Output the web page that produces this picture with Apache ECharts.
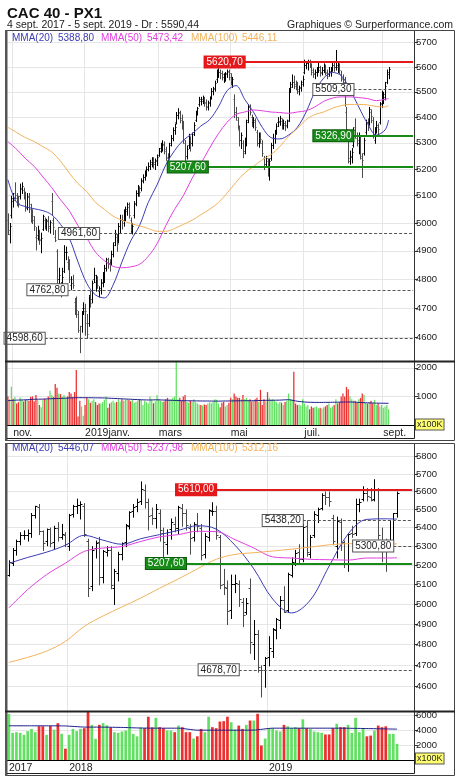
<!DOCTYPE html>
<html><head><meta charset="utf-8">
<script src="https://cdn.jsdelivr.net/npm/echarts@6/dist/echarts.min.js"></script>
<style>html,body{margin:0;padding:0;background:#fff}#c{width:460px;height:782px}</style>
</head><body><div id="c"></div>
<script>
// ---------------- DATA ----------------
// Daily trading days (top chart)
const dailyMonths = ['2018-10','2018-11','2018-12','2019-01','2019-02','2019-03','2019-04','2019-05','2019-06','2019-07','2019-08','2019-09'];
const dailyDays = [
 [29,30,31],
 [1,2,5,6,7,8,9,12,13,14,15,16,19,20,21,22,23,26,27,28,29,30],
 [3,4,5,6,7,10,11,12,13,14,17,18,19,20,21,24,27,28,31],
 [2,3,4,7,8,9,10,11,14,15,16,17,18,21,22,23,24,25,28,29,30,31],
 [1,4,5,6,7,8,11,12,13,14,15,18,19,20,21,22,25,26,27,28],
 [1,4,5,6,7,8,11,12,13,14,15,18,19,20,21,22,25,26,27,28,29],
 [1,2,3,4,5,8,9,10,11,12,15,16,17,18,23,24,25,26,29,30],
 [2,3,6,7,8,9,10,13,14,15,16,17,20,21,22,23,24,27,28,29,30,31],
 [3,4,5,6,7,10,11,12,13,14,17,18,19,20,21,24,25,26,27,28],
 [1,2,3,4,5,8,9,10,11,12,15,16,17,18,19,22,23,24,25,26,29,30,31],
 [1,2,5,6,7,8,9,12,13,14,15,16,19,20,21,22,23,26,27,28,29,30],
 [2,3,4,5]
];
const dailyOpen = [5010,4960,5030,5080,5110,5090,5085,5100,5125,5120,
 5100,5060,5095,5050,5030,5010,4950,4955,4960,4940,
 4980,5010,4990,5010,4990,5080,5000,4950,4900,4800,
 4780,4770,4830,4895,4860,4850,4780,4800,4720,4710,
 4680,4600,4640,4700,4690,4650,4650,4740,4730,4800,
 4790,4800,4760,4770,4790,4800,4840,4860,4855,4860,
 4890,4930,4950,4940,4990,5010,5010,5030,5050,5060,
 5010,4970,5030,5075,5110,5120,5130,5160,5170,5190,
 5200,5210,5225,5230,5220,5230,5255,5280,5290,5290,
 5270,5240,5245,5300,5320,5350,5380,5410,5415,5390,
 5370,5300,5250,5290,5310,5300,5340,5390,5420,5450,
 5465,5470,5470,5455,5440,5460,5485,5505,5515,5550,
 5575,5580,5575,5560,5560,5575,5580,5560,5540,5470,
 5420,5390,5350,5310,5300,5270,5300,5390,5440,5400,
 5380,5380,5340,5300,5320,5300,5240,5220,5230,5210,
 5240,5290,5320,5345,5380,5385,5385,5370,5370,5370,
 5390,5510,5530,5540,5525,5525,5505,5520,5540,5580,
 5610,5615,5620,5600,5580,5570,5580,5595,5590,5580,
 5590,5595,5575,5570,5580,5590,5610,5600,5600,5600,
 5570,5550,5540,5420,5310,5230,5250,5290,5360,5320,
 5300,5320,5240,5260,5340,5380,5380,5420,5390,5310,
 5360,5360,5380,5455,5470,5480,5540,5570];
const dailyHigh = [5035,5000,5100,5110,5150,5110,5100,5145,5150,5130,
 5115,5110,5110,5070,5050,5025,4985,4990,4975,4965,
 5030,5020,5015,5025,5010,5110,5020,4975,4905,4840,
 4790,4840,4920,4915,4880,4870,4810,4815,4735,4740,
 4690,4640,4690,4720,4715,4680,4745,4760,4795,4840,
 4815,4810,4775,4800,4825,4850,4875,4875,4870,4900,
 4930,4975,4960,5000,5030,5030,5050,5060,5075,5075,
 5020,5000,5080,5120,5140,5135,5165,5180,5195,5210,
 5225,5235,5245,5245,5240,5255,5280,5300,5310,5305,
 5285,5260,5300,5330,5360,5375,5420,5435,5425,5410,
 5385,5310,5290,5335,5325,5340,5380,5425,5440,5480,
 5480,5485,5480,5470,5465,5480,5515,5520,5545,5590,
 5595,5590,5585,5575,5580,5590,5590,5575,5560,5490,
 5440,5400,5365,5340,5310,5320,5390,5450,5450,5410,
 5400,5395,5350,5340,5340,5310,5250,5250,5240,5240,
 5300,5335,5350,5375,5400,5405,5395,5390,5385,5390,
 5515,5540,5570,5565,5545,5540,5525,5545,5565,5630,
 5625,5630,5630,5615,5595,5590,5600,5620,5605,5600,
 5615,5610,5590,5600,5600,5620,5625,5670,5620,5615,
 5585,5570,5560,5440,5320,5270,5280,5360,5395,5340,
 5340,5330,5260,5320,5390,5395,5440,5430,5400,5360,
 5385,5375,5460,5505,5500,5540,5590,5600];
const dailyLow = [4960,4930,5020,5060,5090,5065,5060,5090,5110,5090,
 5045,5050,5040,5005,5000,4975,4905,4940,4925,4895,
 4975,4980,4975,4970,4965,5030,4960,4935,4770,4760,
 4740,4765,4825,4870,4835,4790,4765,4770,4680,4670,
 4620,4552,4620,4680,4610,4600,4640,4705,4720,4790,
 4760,4770,4740,4750,4775,4790,4830,4840,4830,4850,
 4880,4920,4900,4930,4965,4980,4990,5010,5030,5020,
 4965,4962,5020,5065,5100,5100,5120,5150,5160,5175,
 5195,5200,5210,5205,5200,5215,5250,5265,5270,5260,
 5235,5225,5240,5290,5310,5335,5375,5395,5380,5355,
 5300,5235,5240,5280,5270,5290,5330,5385,5410,5445,
 5450,5455,5445,5430,5430,5445,5475,5490,5505,5540,
 5560,5555,5550,5540,5545,5560,5550,5530,5520,5400,
 5390,5355,5290,5280,5245,5260,5290,5380,5410,5365,
 5360,5350,5290,5285,5300,5250,5200,5210,5175,5160,
 5235,5280,5300,5335,5365,5370,5355,5355,5350,5360,
 5385,5500,5520,5515,5510,5495,5490,5505,5525,5575,
 5595,5590,5600,5570,5560,5555,5565,5580,5565,5570,
 5580,5570,5555,5565,5565,5585,5585,5590,5580,5575,
 5545,5520,5445,5330,5225,5220,5225,5285,5320,5290,
 5260,5240,5170,5255,5335,5350,5370,5380,5320,5300,
 5340,5330,5375,5440,5455,5470,5535,5555];
const dailyClose = [4975,4990,5093,5085,5102,5083,5075,5130,5138,5107,
 5053,5100,5068,5026,5025,4990,4945,4975,4941,4947,
 5025,4994,5006,4983,5003,5012,4985,4940,4800,4813,
 4750,4808,4896,4896,4853,4799,4787,4780,4712,4694,
 4626,4599,4679,4700,4689,4611,4737,4719,4787,4813,
 4805,4781,4763,4786,4810,4840,4870,4858,4850,4890,
 4920,4960,4925,4990,5010,5000,5030,5045,5070,5030,
 4980,4990,5070,5110,5125,5115,5155,5170,5185,5200,
 5210,5220,5230,5225,5235,5245,5270,5290,5295,5275,
 5245,5235,5290,5320,5350,5360,5410,5420,5395,5380,
 5310,5250,5275,5320,5300,5335,5370,5415,5435,5470,
 5465,5475,5460,5445,5455,5470,5505,5510,5535,5580,
 5580,5575,5570,5560,5570,5585,5575,5545,5550,5420,
 5400,5370,5310,5330,5260,5300,5380,5440,5420,5380,
 5390,5360,5300,5320,5315,5260,5220,5240,5208,5230,
 5290,5320,5340,5365,5380,5395,5370,5375,5365,5385,
 5500,5520,5540,5530,5520,5510,5515,5530,5550,5610,
 5615,5620,5610,5590,5575,5580,5590,5600,5575,5590,
 5605,5580,5565,5585,5590,5610,5600,5610,5605,5590,
 5555,5540,5450,5355,5240,5245,5265,5350,5330,5310,
 5330,5250,5235,5310,5380,5360,5430,5405,5330,5350,
 5370,5355,5450,5480,5490,5525,5580,5590.44];
const dailyVolume = [1000,900,1340,920,980,750,800,960,870,820,
 880,900,850,980,1000,830,1050,880,700,620,
 870,920,880,1000,1200,1050,980,1430,1300,1100,
 1080,1000,1050,940,1000,1150,1100,980,1150,1923,
 300,850,650,320,700,950,900,780,850,900,
 800,700,750,750,800,880,1000,600,750,800,
 850,780,800,900,820,900,850,880,900,870,
 830,900,780,800,850,900,880,700,850,800,
 750,1000,880,760,820,1050,900,850,800,820,
 900,950,880,900,950,1000,2250,900,950,850,
 1000,1050,800,780,850,800,900,800,750,720,
 700,680,720,700,750,800,760,800,900,880,
 750,620,780,800,650,700,780,950,900,1100,
 1000,950,950,900,1050,900,950,850,900,820,
 850,900,950,800,1230,700,900,820,1150,950,
 880,900,860,800,750,800,780,700,800,850,
 1100,900,880,1865,750,700,720,680,900,750,
 650,700,550,650,600,620,650,580,600,580,
 620,650,700,750,600,650,700,900,750,800,
 1000,1100,1000,1330,1250,1000,900,850,850,780,
 900,950,1100,1050,780,750,800,850,750,880,
 700,750,650,700,600,650,700,550];
// moving averages read every 5 trading days (index 0,5,10,...,215), plus last value
const dailyMaStep = 5;
const dailyMa20 = [5160,5075,5060,5052,5045,5030,4995,4945,4860,4785,4745,4735,4780,4860,4935,4990,5075,5140,5215,5270,5310,5335,5365,5390,5440,5505,5525,5470,5420,5360,5320,5315,5330,5360,5420,5500,5555,5578,5565,5510,5440,5375,5330,5350];
const dailyMa50 = [5305,5275,5240,5210,5170,5130,5085,5045,4990,4945,4895,4865,4845,4840,4843,4852,4880,4925,4990,5050,5100,5165,5220,5280,5335,5380,5410,5420,5428,5425,5420,5418,5415,5420,5425,5440,5462,5475,5480,5480,5477,5473,5465,5470];
const dailyMa100 = [5360,5340,5320,5305,5285,5265,5230,5185,5145,5115,5075,5050,5025,5010,4998,4990,4980,4970,4970,4980,4995,5010,5030,5050,5075,5110,5150,5185,5210,5235,5255,5285,5325,5355,5390,5410,5420,5435,5445,5450,5450,5448,5442,5440];
const dailyVolMa = [850,870,880,900,905,920,930,945,955,955,950,945,930,915,900,885,875,880,870,860,850,845,840,838,835,840,845,850,850,860,865,870,885,830,800,790,790,795,800,805,790,775,765,760];
const dailyMaLast = [5388.80, 5473.42, 5446.11];
const dailyVolMaLast = 760;
// horizontal levels (top chart)
const dailyLevelValues = [5620.70, 5509.30, 5326.90, 5207.60, 4961.60, 4762.80, 4598.60];
const dailyLevelStart = ['2019-05-14','2019-08-08','2019-08-08','2019-04-10','2019-01-14','2018-12-14','2018-11-27'];
const dailyLevelKind = ['resistance','pivot','support','support','pivot','pivot','pivot'];

// Weekly bars (bottom chart), week starting Monday
const weeklyMonths = ['2017-09','2017-10','2017-11','2017-12','2018-01','2018-02','2018-03','2018-04','2018-05','2018-06','2018-07','2018-08','2018-09','2018-10','2018-11','2018-12','2019-01','2019-02','2019-03','2019-04','2019-05','2019-06','2019-07','2019-08','2019-09'];
const weeklyDays = [[11,18,25],[2,9,16,23,30],[6,13,20,27],[4,11,18,25],[1,8,15,22,29],[5,12,19,26],[5,12,19,26],[2,9,16,23,30],[7,14,21,28],[4,11,18,25],[2,9,16,23,30],[6,13,20,27],[3,10,17,24],[1,8,15,22,29],[5,12,19,26],[3,10,17,24,31],[7,14,21,28],[4,11,18,25],[4,11,18,25],[1,8,15,22,29],[6,13,20,27],[3,10,17,24],[1,8,15,22,29],[5,12,19,26],[2]];
const weeklyOpen = [5150,5210,5280,5330,5360,5360,5370,5470,5515,5380,
 5325,5390,5320,5400,5350,5360,5300,5475,5520,5525,
 5520,5330,5090,5290,5320,5140,5270,5280,5080,5160,
 5260,5320,5410,5490,5520,5545,5610,5540,5470,5450,
 5480,5370,5310,5390,5420,5400,5510,5480,5400,5350,
 5420,5400,5260,5350,5490,5490,5350,5100,5080,4970,
 5100,5100,5010,4960,5080,4800,4850,4680,4700,4740,
 4770,4870,4920,5020,4970,5150,5210,5270,5230,5410,
 5260,5360,5470,5510,5580,5570,5450,5300,5430,5320,
 5210,5370,5370,5530,5560,5590,5570,5560,5610,5330,
 5320,5310,5320,5480];
const weeklyHigh = [5225,5290,5335,5375,5385,5390,5480,5520,5530,5385,
 5395,5400,5410,5430,5420,5375,5475,5525,5560,5545,
 5535,5340,5300,5330,5350,5280,5300,5300,5180,5270,
 5320,5420,5490,5530,5560,5657,5640,5560,5510,5530,
 5500,5400,5390,5450,5460,5520,5530,5500,5420,5430,
 5480,5420,5370,5500,5540,5520,5360,5180,5120,5150,
 5150,5120,5030,5030,5130,4920,4870,4700,4740,4840,
 4880,4930,5040,5090,5160,5240,5280,5310,5420,5440,
 5360,5490,5510,5590,5600,5600,5470,5460,5450,5330,
 5370,5410,5560,5560,5630,5620,5620,5670,5620,5400,
 5340,5440,5480,5600];
const weeklyLow = [5145,5200,5255,5310,5340,5330,5350,5455,5365,5280,
 5305,5300,5290,5330,5340,5300,5280,5460,5480,5450,
 5355,5040,5070,5240,5100,5110,5250,5080,5000,5120,
 5230,5300,5395,5460,5490,5530,5510,5390,5420,5400,
 5330,5240,5260,5340,5380,5370,5410,5390,5260,5330,
 5380,5230,5240,5330,5470,5340,5080,5050,4900,4930,
 5060,4990,4890,4950,4760,4730,4670,4555,4600,4700,
 4740,4830,4880,4960,4960,5140,5200,5210,5220,5250,
 5240,5350,5430,5500,5530,5520,5310,5240,5280,5190,
 5170,5350,5360,5490,5550,5550,5550,5550,5340,5220,
 5170,5300,5300,5460];
const weeklyClose = [5214,5282,5330,5360,5362,5372,5467,5517,5380,5319,
 5390,5316,5399,5349,5365,5313,5471,5517,5526,5529,
 5364,5079,5282,5317,5137,5274,5282,5095,5167,5258,
 5315,5412,5483,5516,5542,5614,5542,5465,5450,5502,
 5387,5324,5375,5429,5398,5511,5478,5414,5344,5421,
 5406,5253,5352,5494,5493,5359,5095,5084,4967,5102,
 5107,5025,4947,5003,4813,4853,4694,4679,4737,4781,
 4875,4925,5019,4962,5153,5215,5265,5231,5405,5269,
 5350,5476,5502,5580,5569,5548,5327,5438,5316,5208,
 5364,5367,5528,5539,5594,5572,5552,5610,5359,5327,
 5301,5327,5480,5590.44];
const weeklyVolume = [6240,3670,3760,3670,3400,3900,4200,3760,4570,4570,
 3400,4600,4100,4980,3550,1530,3400,4200,3900,4200,
 4300,6500,4750,2860,4750,4980,4700,4400,3760,3670,
 3850,3986,5700,3536,3200,4400,4300,5850,4400,5700,
 4437,4300,3986,3986,3760,4650,4437,3760,3760,2900,
 3200,4200,3760,5850,4437,4300,5200,5250,5850,5100,
 4100,4650,4200,4750,5330,5330,6240,1960,2900,4300,
 4300,3986,3850,4750,4570,4300,4437,4300,5500,4300,
 4200,3850,3760,3670,3450,3450,4300,4900,4437,4437,
 4750,3670,5700,3760,4300,3200,3300,3986,4650,4437,
 4550,3536,3536,2185];
const weeklyMaStep = 5;
const weeklyMa20 = [5209,5240,5268,5305,5358,5332,5310,5340,5362,5385,5410,5392,5305,5180,5025,4955,5020,5195,5365,5445,5448];
const weeklyMa50 = [4980,5073,5150,5210,5272,5290,5298,5325,5350,5362,5380,5378,5335,5290,5243,5237,5230,5228,5226,5237,5237];
const weeklyMa100 = [4714,4738,4768,4815,4888,4940,4985,5030,5080,5128,5180,5230,5256,5265,5274,5284,5295,5307,5313,5312,5312];
const weeklyVolMa = [4620,4620,4620,4600,4450,4440,4400,4320,4300,4300,4030,4030,4030,4040,4300,4300,4300,4300,4290,4250,4200];
const weeklyMaLast = [5446.07, 5237.98, 5312.16];
const weeklyVolMaLast = 4170;
const weeklyLevelValues = [5610.00, 5438.20, 5300.80, 5207.60, 4678.70];
const weeklyLevelStart = ['2018-10-01','2019-03-11','2019-08-26','2018-08-06','2018-11-12'];
const weeklyLevelKind = ['resistance','pivot','pivot','support','pivot'];

// axis ticks
const topPriceTicks = [4600,4700,4800,4900,5000,5100,5200,5300,5400,5500,5600,5700];
const bottomPriceTicks = [4600,4700,4800,4900,5000,5100,5200,5300,5400,5500,5600,5700,5800];
const topVolTicks = [1000,2000];
const bottomVolTicks = [2000,4000,6000];
const frMonths = ['janv.','févr.','mars','avr.','mai','juin','juil.','août','sept.','oct.','nov.','déc.'];

// ---------------- BUILD ----------------
const LN = Math.log;
const FONT = '"Liberation Sans", Arial, sans-serif';
function flatDates(months, days){const o=[];months.forEach((m,i)=>days[i].forEach(d=>o.push(m+'-'+String(d).padStart(2,'0'))));return o;}
const dailyDates = flatDates(dailyMonths, dailyDays);
const weeklyDates = flatDates(weeklyMonths, weeklyDays);
const DAILY_SLOTS = 232, WEEKLY_SLOTS = 108;
function pad(dates, n){return dates.concat(Array.from({length:n-dates.length},(_,i)=>'_'+i));}
const dailyCats = pad(dailyDates, DAILY_SLOTS);
const weeklyCats = pad(weeklyDates, WEEKLY_SLOTS);

const dailyLabelIdx = new Set();
dailyDates.forEach((d,i)=>{ if(i>0 && d.slice(0,7)!==dailyDates[i-1].slice(0,7) && (+d.slice(5,7))%2===1) dailyLabelIdx.add(i); });
const weeklyLabelIdx = new Set([0]);
weeklyDates.forEach((d,i)=>{ if(i>0 && d.slice(0,4)!==weeklyDates[i-1].slice(0,4)) weeklyLabelIdx.add(i); });

function ohlcData(o,h,l,c){return o.map((v,i)=>[i,LN(v),LN(h[i]),LN(l[i]),LN(c[i])]);}
function maData(vals, step, last, lastIdx, log){
  const d = vals.map((v,i)=>[i*step, log?LN(v):v]);
  d.push([lastIdx, log?LN(last):last]);
  return d;
}
function volData(vol, close, open){
  return vol.map((v,i)=>{
    const up = i===0 ? close[i]>=open[i] : close[i]>=close[i-1];
    return {value:[i,v], itemStyle:{color: up ? '#63e063' : '#ec2f2f'}};
  });
}
function ohlcRender(tick){
  return function(params, api){
    const i = api.value(0);
    const pO = api.coord([i, api.value(1)]), pH = api.coord([i, api.value(2)]);
    const pL = api.coord([i, api.value(3)]), pC = api.coord([i, api.value(4)]);
    const x = Math.round(pO[0]) + 0.5;
    const up = api.value(4) >= api.value(1);
    const col = up ? '#000' : '#4a4a4a';
    const yo = Math.round(pO[1]) + 0.5, yc = Math.round(pC[1]) + 0.5;
    const st = {stroke: col, lineWidth: 1};
    return {type:'group', children:[
      {type:'line', shape:{x1:x,y1:pH[1],x2:x,y2:pL[1]+1}, style:st},
      {type:'line', shape:{x1:x-tick,y1:yo,x2:x,y2:yo}, style:st},
      {type:'line', shape:{x1:x,y1:yc,x2:x+tick,y2:yc}, style:st}
    ]};
  };
}
const levelStyle = {
  resistance: {line:{color:'#e3191c', width:2, type:'solid'}, label:{color:'#fff', backgroundColor:'#e3191c', borderColor:'#e3191c'}},
  support: {line:{color:'#178a17', width:2, type:'solid'}, label:{color:'#fff', backgroundColor:'#178a17', borderColor:'#0c5c0c'}},
  pivot: {line:{color:'#555', width:1.2, type:[3,2]}, label:{color:'#222', backgroundColor:'#fff', borderColor:'#555'}}
};
function levelMarks(values, starts, kinds, dates, lastIdx){
  return values.map((v,i)=>{
    const s = levelStyle[kinds[i]];
    const si = dates.indexOf(starts[i]);
    return [
      {coord:[si, LN(v)], lineStyle:s.line, label:{show:true, position:'start', distance:0,
        formatter: v.toFixed(2).replace('.', ','), fontFamily:FONT, fontSize:10, padding:[1,2,0,2],
        borderWidth:1, color:s.label.color, backgroundColor:s.label.backgroundColor, borderColor:s.label.borderColor}},
      {coord:[lastIdx, LN(v)]}
    ];
  });
}
function priceAxis(grid, lo, hi, ticks){
  const cv = ticks.map(LN);
  return {type:'value', gridIndex:grid, position:'right', min:LN(lo), max:LN(hi), scale:true,
    axisLine:{show:true, lineStyle:{color:'#333', width:1}},
    axisTick:{show:true, length:4, customValues:cv, lineStyle:{color:'#333'}},
    axisLabel:{show:true, customValues:cv, margin:2, fontFamily:FONT, fontSize:9.5, color:'#222',
      formatter:v=>String(Math.round(Math.exp(v)))},
    splitLine:{show:true, lineStyle:{color:'#e6e6e6', width:1}}};
}
function volAxis(grid, max, ticks){
  return {type:'value', gridIndex:grid, position:'right', min:0, max:max,
    axisLine:{show:true, lineStyle:{color:'#333', width:1}},
    axisTick:{show:true, length:4, customValues:ticks, lineStyle:{color:'#333'}},
    axisLabel:{show:true, customValues:ticks, margin:2, fontFamily:FONT, fontSize:9.5, color:'#222',
      formatter:v=>String(Math.round(v))},
    splitLine:{show:true, lineStyle:{color:'#e6e6e6', width:1}}};
}
function catAxis(grid, cats, gridSet, labelSet, labelFmt){
  return {type:'category', gridIndex:grid, data:cats, boundaryGap:true,
    axisLine:{show:!!labelFmt, lineStyle:{color:'#000', width:1}}, axisTick:{show:false},
    axisLabel: labelFmt ? {show:true, interval:(i)=>labelSet.has(i), formatter:labelFmt, align:'left',
      margin:3, fontFamily:FONT, fontSize:10.5, color:'#222'} : {show:false},
    splitLine:{show:true, interval:(i)=>gridSet.has(i), lineStyle:{color:'#e6e6e6', width:1}}};
}
const dailyFmt = (v)=>{const m=+v.slice(5,7); return m===1 ? v.slice(0,4)+'janv.' : frMonths[m-1];};
const weeklyFmt = (v)=>v.slice(0,4);
const weeklyGridIdx = new Set([...weeklyLabelIdx].filter(i=>i>0));

const MA_COL = ['#3b3bb4','#e03fe0','#f3b25a'];
function maSeries(x, y, data){
  return data.map((d,k)=>({type:'line', xAxisIndex:x, yAxisIndex:y, data:d, smooth:0.35, showSymbol:false,
    lineStyle:{color:MA_COL[k], width:1}, silent:true, z:3}));
}

const dLast = dailyDates.length - 1;
const wLast = weeklyDates.length - 1;
const dailyMas = maSeries(0, 0, [
  maData(dailyMa20, dailyMaStep, dailyMaLast[0], dLast, true),
  maData(dailyMa50, dailyMaStep, dailyMaLast[1], dLast, true),
  maData(dailyMa100, dailyMaStep, dailyMaLast[2], dLast, true)]);
dailyMas[2].markLine = {silent:true, symbol:['none','none'], animation:false,
  data: levelMarks(dailyLevelValues, dailyLevelStart, dailyLevelKind, dailyDates, DAILY_SLOTS-1)};
const weeklyMas = maSeries(2, 2, [
  maData(weeklyMa20, weeklyMaStep, weeklyMaLast[0], wLast, true),
  maData(weeklyMa50, weeklyMaStep, weeklyMaLast[1], wLast, true),
  maData(weeklyMa100, weeklyMaStep, weeklyMaLast[2], wLast, true)]);
weeklyMas[2].markLine = {silent:true, symbol:['none','none'], animation:false,
  data: levelMarks(weeklyLevelValues, weeklyLevelStart, weeklyLevelKind, weeklyDates, WEEKLY_SLOTS-1)};

function fmt2(v){return v.toFixed(2).replace('.', ',');}
function legend(y, vals){
  const xs = [12, 58, 101, 147, 191, 242];
  const names = ['MMA(20)','MMA(50)','MMA(100)'];
  const out = [];
  for(let k=0;k<3;k++){
    out.push({type:'text', x:xs[2*k], y:y, z:100, style:{text:names[k], fill:MA_COL[k], font:'10px '+FONT, verticalAlign:'middle'}});
    out.push({type:'text', x:xs[2*k+1], y:y, z:100, style:{text:fmt2(vals[k]), fill:MA_COL[k], font:'10px '+FONT, verticalAlign:'middle'}});
  }
  return out;
}
const frameCol = '#444';
const graphics = [
  {type:'text', x:7, y:6, style:{text:'CAC 40 - PX1', fill:'#111', font:'bold 15px '+FONT}},
  {type:'text', x:7, y:25, style:{text:'4 sept. 2017 - 5 sept. 2019 - Dr : ' + fmt2(dailyClose[dailyClose.length-1]), fill:'#222', font:'10.5px '+FONT, verticalAlign:'middle'}},
  {type:'text', x:453, y:25, style:{text:'Graphiques © Surperformance.com', fill:'#222', font:'10.5px '+FONT, align:'right', verticalAlign:'middle'}},
  // frames
  {type:'rect', z:50, shape:{x:5.5,y:30.5,width:449,height:410}, style:{fill:null, stroke:frameCol, lineWidth:1}},
  {type:'rect', z:50, shape:{x:5,y:30,width:2.5,height:411}, style:{fill:'#555'}},
  {type:'line', z:50, shape:{x1:5,y1:361.5,x2:455,y2:361.5}, style:{stroke:'#222', lineWidth:2}},
  {type:'line', z:50, shape:{x1:7,y1:438.5,x2:414.5,y2:438.5}, style:{stroke:'#222', lineWidth:1}},
  {type:'line', z:50, shape:{x1:414.5,y1:425,x2:414.5,y2:438.5}, style:{stroke:'#222', lineWidth:1}},
  {type:'rect', z:50, shape:{x:5.5,y:443.5,width:449,height:332}, style:{fill:null, stroke:frameCol, lineWidth:1}},
  {type:'rect', z:50, shape:{x:5,y:443,width:2.5,height:333}, style:{fill:'#555'}},
  {type:'line', z:50, shape:{x1:5,y1:711.5,x2:455,y2:711.5}, style:{stroke:'#222', lineWidth:2}},
  {type:'line', z:50, shape:{x1:7,y1:773.5,x2:414.5,y2:773.5}, style:{stroke:'#222', lineWidth:1}},
  {type:'line', z:50, shape:{x1:414.5,y1:760,x2:414.5,y2:773.5}, style:{stroke:'#222', lineWidth:1}},
  {type:'text', z:60, x:416, y:424.5, style:{text:'x100K', fill:'#222', font:'9px '+FONT, verticalAlign:'middle', backgroundColor:'#ffff70', borderColor:'#555', borderWidth:1, padding:[1,1,0,1]}},
  {type:'text', z:60, x:416, y:758.5, style:{text:'x100K', fill:'#222', font:'9px '+FONT, verticalAlign:'middle', backgroundColor:'#ffff70', borderColor:'#555', borderWidth:1, padding:[1,1,0,1]}}
].concat(legend(38.5, dailyMaLast), legend(448.5, weeklyMaLast));

const option = {
  animation:false,
  textStyle:{fontFamily:FONT},
  grid:[
    {left:7, right:46, top:31, height:330},
    {left:7, right:46, top:362, height:63},
    {left:7, right:46, top:444, height:267},
    {left:7, right:46, top:712, height:48}
  ],
  xAxis:[
    catAxis(0, dailyCats, dailyLabelIdx, dailyLabelIdx, null),
    catAxis(1, dailyCats, dailyLabelIdx, dailyLabelIdx, dailyFmt),
    catAxis(2, weeklyCats, weeklyGridIdx, weeklyLabelIdx, null),
    catAxis(3, weeklyCats, weeklyGridIdx, weeklyLabelIdx, weeklyFmt)
  ],
  yAxis:[
    priceAxis(0, 4522.8, 5748.7, topPriceTicks),
    volAxis(1, 2203, topVolTicks),
    priceAxis(2, 4488.7, 5874.7, bottomPriceTicks),
    volAxis(3, 6486, bottomVolTicks)
  ],
  series:[
    {type:'custom', xAxisIndex:0, yAxisIndex:0, data:ohlcData(dailyOpen,dailyHigh,dailyLow,dailyClose),
      renderItem:ohlcRender(1), encode:{x:0,y:[1,2,3,4]}, silent:true, z:2, clip:true},
    ...dailyMas,
    {type:'bar', xAxisIndex:1, yAxisIndex:1, data:volData(dailyVolume,dailyClose,dailyOpen), barWidth:'72%', silent:true},
    {type:'line', xAxisIndex:1, yAxisIndex:1, data:maData(dailyVolMa, dailyMaStep, dailyVolMaLast, dLast, false),
      showSymbol:false, smooth:0.2, lineStyle:{color:'#1c1c8e', width:1}, silent:true, z:4},
    {type:'custom', xAxisIndex:2, yAxisIndex:2, data:ohlcData(weeklyOpen,weeklyHigh,weeklyLow,weeklyClose),
      renderItem:ohlcRender(2), encode:{x:0,y:[1,2,3,4]}, silent:true, z:2, clip:true},
    ...weeklyMas,
    {type:'bar', xAxisIndex:3, yAxisIndex:3, data:volData(weeklyVolume,weeklyClose,weeklyOpen), barWidth:'72%', silent:true},
    {type:'line', xAxisIndex:3, yAxisIndex:3, data:maData(weeklyVolMa, weeklyMaStep, weeklyVolMaLast, wLast, false),
      showSymbol:false, smooth:0.2, lineStyle:{color:'#1c1c8e', width:1}, silent:true, z:4}
  ],
  graphic: graphics
};
const chart = echarts.init(document.getElementById('c'), null, {renderer:'canvas'});
chart.setOption(option);
</script></body></html>
